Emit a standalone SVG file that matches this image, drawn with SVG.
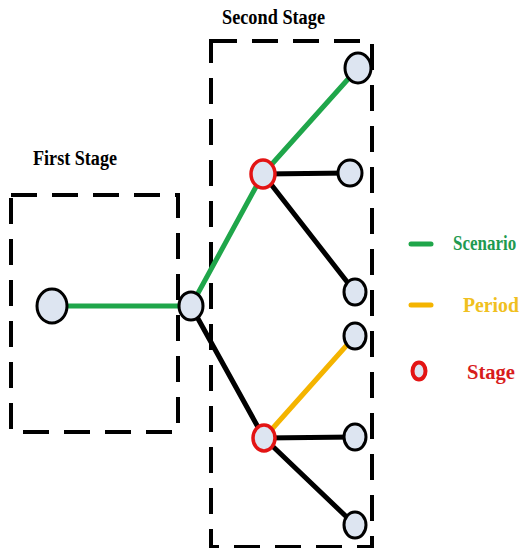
<svg xmlns="http://www.w3.org/2000/svg" width="522" height="548" viewBox="0 0 522 548">
<style>
.box{fill:none;stroke:#000;stroke-width:4;stroke-dasharray:26 15}
.n{fill:#dde5f1;stroke:#000;stroke-width:3}
.s{fill:#dde5f1;stroke:#e31414;stroke-width:3.5}
.t{font-family:"Liberation Serif",serif;font-weight:bold;font-size:20px}
.e{fill:none;stroke-width:5;stroke-linecap:round}
</style>
<rect width="522" height="548" fill="#fff"/>
<g id="first-stage">
<rect class="box" x="11" y="195" width="167" height="237"/>
<text class="t" x="33" y="165" fill="#000" textLength="84" lengthAdjust="spacingAndGlyphs">First Stage</text>
</g>
<g id="second-stage">
<rect class="box" x="211" y="41" width="161" height="506"/>
<text class="t" x="222" y="24" fill="#000" textLength="103" lengthAdjust="spacingAndGlyphs">Second Stage</text>
</g>
<g id="connectors">
<line class="e" x1="52" y1="306" x2="191" y2="306" stroke="#1fa64a" stroke-width="3"/>
<line class="e" x1="191" y1="306" x2="263" y2="174" stroke="#1fa64a"/>
<line class="e" x1="263" y1="174" x2="358" y2="68" stroke="#1fa64a"/>
<line class="e" x1="263" y1="174" x2="350" y2="173" stroke="#000" stroke-width="6"/>
<line class="e" x1="263" y1="174" x2="355" y2="292" stroke="#000"/>
<line class="e" x1="191" y1="306" x2="264" y2="438" stroke="#000"/>
<line class="e" x1="264" y1="438" x2="355" y2="336" stroke="#f4b400"/>
<line class="e" x1="264" y1="438" x2="355" y2="437" stroke="#000" stroke-width="6"/>
<line class="e" x1="264" y1="438" x2="355" y2="525" stroke="#000"/>
</g>
<g id="n-root"><ellipse class="n" cx="52" cy="306" rx="15" ry="17"/></g>
<g id="n-first"><ellipse class="n" cx="191" cy="306" rx="12" ry="14"/></g>
<g id="n-stage-up"><ellipse class="s" cx="263" cy="174" rx="12" ry="14"/></g>
<g id="n-stage-down"><ellipse class="s" cx="264" cy="438" rx="11" ry="13"/></g>
<g id="n-leaf1"><ellipse class="n" cx="358" cy="68" rx="13" ry="15"/></g>
<g id="n-leaf2"><ellipse class="n" cx="350" cy="173" rx="12" ry="13"/></g>
<g id="n-leaf3"><ellipse class="n" cx="355" cy="292" rx="11" ry="13"/></g>
<g id="n-leaf4"><ellipse class="n" cx="355" cy="336" rx="11" ry="13"/></g>
<g id="n-leaf5"><ellipse class="n" cx="355" cy="437" rx="11" ry="13"/></g>
<g id="n-leaf6"><ellipse class="n" cx="355" cy="525" rx="11" ry="13"/></g>
<g id="legend">
<line x1="411" y1="244" x2="431" y2="244" stroke="#1fa64a" stroke-width="5" stroke-linecap="round"/>
<text class="t" transform="translate(453 250) scale(1 1.18)" x="0" y="0" fill="#1f9a50" style="font-size:17px">Scenario</text>
<line x1="411" y1="305" x2="431" y2="305" stroke="#f4b400" stroke-width="5" stroke-linecap="round"/>
<text class="t" x="463" y="312" fill="#f0c020" textLength="56" lengthAdjust="spacingAndGlyphs">Period</text>
<ellipse cx="419" cy="371" rx="6.5" ry="8.5" fill="#dde5f1" stroke="#e31414" stroke-width="4"/>
<text class="t" x="467" y="379" fill="#d81c1c" textLength="48" lengthAdjust="spacingAndGlyphs">Stage</text>
</g>
</svg>
